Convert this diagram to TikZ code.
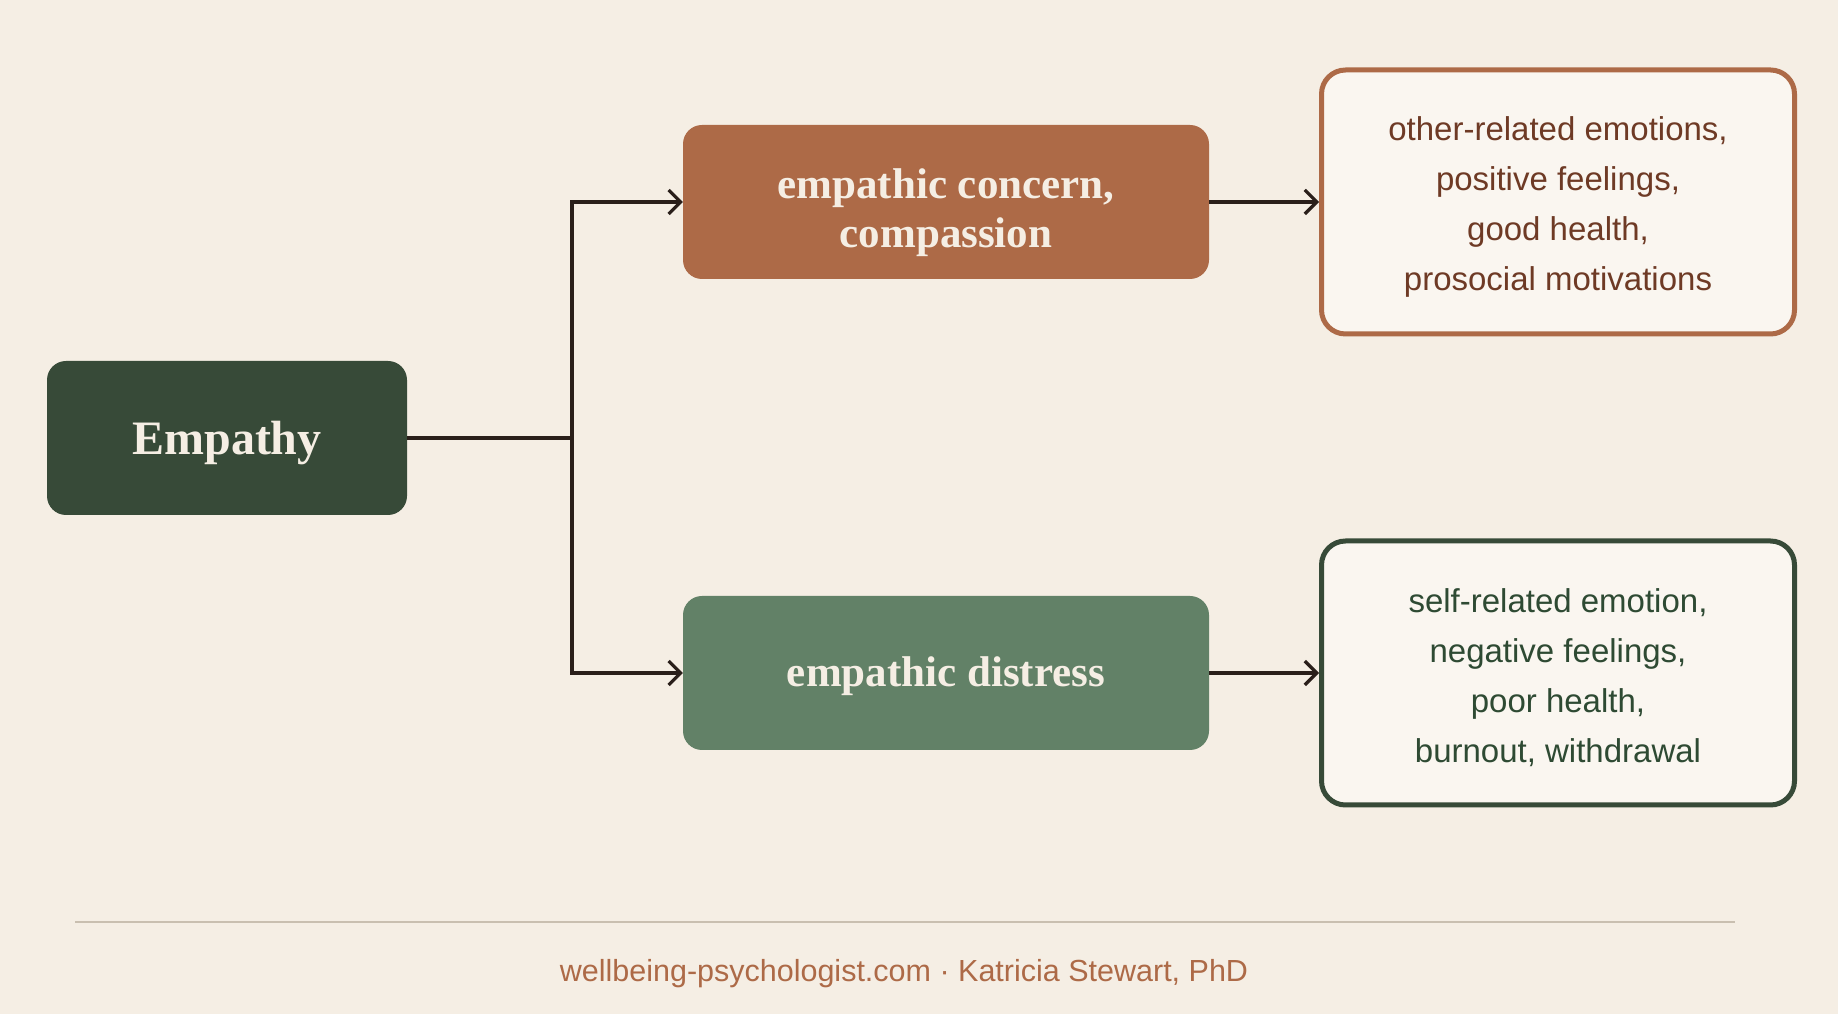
\documentclass[tikz,border=0pt]{standalone}
\usepackage{fontspec}
\setmainfont{Liberation Serif}
\setsansfont{Liberation Sans}
\usepackage{tikz}
\usetikzlibrary{arrows.meta,positioning}
\definecolor{PageBg}{HTML}{F5EEE4}
\definecolor{DeepGreen}{HTML}{374A38}
\definecolor{SageGreen}{HTML}{628167}
\definecolor{Rust}{HTML}{AD6A47}
\definecolor{RustText}{HTML}{6E3A25}
\definecolor{GreenText}{HTML}{2E4A33}
\definecolor{CardFill}{HTML}{FAF6F0}
\definecolor{InkLine}{HTML}{2A1F1A}
\definecolor{RuleGray}{HTML}{C9BFB0}
\definecolor{LightText}{HTML}{F5EEE4}
% taller first line, so the text sits a little lower in its box
\newcommand{\liftline}[1]{\rule{0pt}{#1}}

\begin{document}
\begin{tikzpicture}[x=1pt,y=1pt,
  headbox/.style={rounded corners=19pt,minimum height=154pt,align=center,
                  text=LightText,font=\fontsize{43}{49}\selectfont\bfseries},
  outbox/.style={fill=CardFill,line width=5pt,rounded corners=24pt,
                 minimum width=473pt,minimum height=264pt,align=center,
                 font=\sffamily\fontsize{33}{50}\selectfont},
  link/.style={line width=3.2pt,InkLine},
  arr/.style={link,-{Straight Barb[length=12pt,width=24pt,line width=3.2pt]}},
]
\fill[PageBg] (0,0) rectangle (1838,1014);
\useasboundingbox (0,0) rectangle (1838,1014);

% root and branches
\node[headbox,fill=DeepGreen,minimum width=360pt,
      font=\fontsize{48}{54}\selectfont\bfseries] (emp) at (227,576)
  {\liftline{43pt}Empathy};
\node[headbox,fill=Rust,minimum width=526pt] (concern) at (946,812)
  {\liftline{52pt}empathic concern,\\compassion};
\node[headbox,fill=SageGreen,minimum width=526pt] (distress) at (946,341)
  {\liftline{36pt}empathic distress};

% outcomes
\node[outbox,draw=Rust,text=RustText] (good) at (1558,812)
  {\liftline{33pt}other-related emotions,\\positive feelings,\\good health,\\prosocial motivations};
\node[outbox,draw=DeepGreen,text=GreenText] (bad) at (1558,341)
  {\liftline{33pt}self-related emotion,\\negative feelings,\\poor health,\\burnout, withdrawal};

% connectors
\coordinate (split) at (572,576);
\draw[link] (emp.east) -- (split);
\draw[arr] (split) |- (concern.west);
\draw[arr] (split) |- (distress.west);
\draw[arr] (concern.east) -- (good.west);
\draw[arr] (distress.east) -- (bad.west);

% footer
\coordinate (ruleL) at (75,92);
\coordinate (ruleR) at (1735,92);
\draw[RuleGray,line width=2pt] (ruleL) -- (ruleR);
\node[font=\sffamily\fontsize{30.5}{36}\selectfont,text=Rust] (credit) at (904,40)
  {wellbeing-psychologist.com · Katricia Stewart, PhD};
\end{tikzpicture}
\end{document}
